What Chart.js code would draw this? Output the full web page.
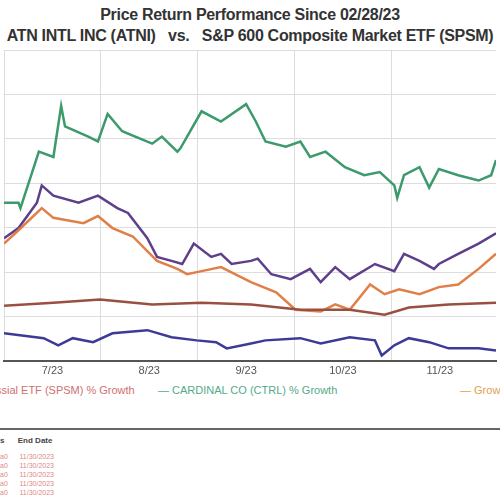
<!DOCTYPE html>
<html>
<head>
<script src="https://cdn.jsdelivr.net/npm/chart.js"></script>
<style>
body{margin:0;width:500px;height:500px;overflow:hidden;background:#fff;font-family:Arial,"Liberation Sans",sans-serif;position:relative}
.t{position:absolute;left:-150px;width:800px;text-align:center;font-weight:bold;font-size:16px;color:#333;white-space:nowrap;letter-spacing:-0.3px}
#wrap{position:absolute;left:0;top:50px;width:500px;height:332px}
.leg{position:absolute;top:384px;font-size:11px;white-space:nowrap}
</style>
</head>
<body>
<div class="t" style="top:6px">Price Return Performance Since 02/28/23</div>
<div class="t" style="top:27px">ATN INTL INC (ATNI) &nbsp;&nbsp;vs.&nbsp;&nbsp; S&amp;P 600 Composite Market ETF (SPSM)</div>
<div id="wrap"><canvas id="myChart"></canvas></div>
<div class="leg" style="left:-4px;color:#d07070">ssial ETF (SPSM) % Growth</div>
<div class="leg" style="left:158px;color:#55aa88">— CARDINAL CO (CTRL) % Growth</div>
<div class="leg" style="left:460px;color:#e0a050">— Grow</div>
<div style="position:absolute;left:0;top:428px;width:500px;border-top:2px solid #666"></div>
<div style="position:absolute;left:0;top:436px;font-size:8px;font-weight:bold;color:#444">s &nbsp;&nbsp;&nbsp;&nbsp; End Date</div>
<div style="position:absolute;left:0;top:452px;font-size:7px;line-height:9px;color:#d88">a0 &nbsp;&nbsp;&nbsp;&nbsp; 11/30/2023<br>a0 &nbsp;&nbsp;&nbsp;&nbsp; 11/30/2023<br>a0 &nbsp;&nbsp;&nbsp;&nbsp; 11/30/2023<br>a0 &nbsp;&nbsp;&nbsp;&nbsp; 11/30/2023<br>a0 &nbsp;&nbsp;&nbsp;&nbsp; 11/30/2023</div>
<script>
var monthLabels = ['7/23', '8/23', '9/23', '10/23', '11/23'];

var greenX = [0,0.15,0.17,0.36,0.51,0.59,0.63,0.87,0.97,1.07,1.22,1.53,1.63,1.79,1.82,2.04,2.24,2.5,2.6,2.7,2.91,3.06,3.16,3.32,3.52,3.72,3.88,4.03,4.06,4.13,4.29,4.39,4.49,4.69,4.9,5.03,5.08];
var greenY = [5.6,5.6,4.4,17.1,15.9,27.4,22.8,20.5,19.4,25.6,21.7,18.9,20.5,17.1,17.8,26.2,23.9,27.8,23.9,19.4,18.2,19.4,15.9,17.1,13.6,11.8,12.5,9.5,6.7,11.8,13.6,9.0,13.2,11.8,10.6,11.8,15.2];

var purpleX = [0,0.15,0.34,0.39,0.51,0.77,0.97,1.17,1.28,1.48,1.58,1.73,1.84,1.96,2.14,2.24,2.35,2.55,2.62,2.76,2.96,3.16,3.27,3.42,3.57,3.83,4.03,4.13,4.29,4.44,4.49,4.69,4.9,5.08];
var purpleY = [-2.4,-0.1,5.6,9.5,7.2,5.6,7.2,4.4,3.3,-2.4,-6.6,-7.5,-8.2,-3.6,-6.6,-5.9,-8.2,-7.5,-7.0,-10.5,-11.6,-9.3,-12.3,-8.9,-11.6,-8.2,-9.8,-5.9,-7.5,-9.3,-8.2,-5.9,-3.6,-1.3];

var orangeX = [0,0.15,0.39,0.51,0.82,0.97,1.12,1.33,1.58,1.79,1.89,2.04,2.24,2.55,2.81,3.01,3.27,3.42,3.57,3.78,3.93,4.08,4.29,4.49,4.69,4.9,5.08];
var orangeY = [-3.6,-0.6,4.4,2.2,1.0,2.6,-0.1,-2.0,-7.5,-9.3,-10.5,-9.8,-8.9,-12.3,-14.6,-18.5,-18.9,-17.3,-18.5,-12.8,-15.0,-13.9,-15.0,-13.4,-12.8,-9.3,-5.9];

var brownX = [0,0.51,0.99,1.53,2.04,2.55,3.06,3.57,3.93,4.18,4.59,5.08];
var brownY = [-17.6,-16.9,-16.2,-17.3,-16.9,-17.3,-18.5,-18.5,-19.6,-18.0,-17.3,-16.9];

var blueX = [0,0.41,0.56,0.71,0.92,1.12,1.48,1.73,1.99,2.19,2.3,2.55,2.7,3.06,3.27,3.57,3.83,3.9,4.03,4.18,4.39,4.59,4.9,5.08];
var blueY = [-23.8,-24.9,-26.5,-24.9,-25.8,-23.8,-23.1,-24.7,-25.4,-25.8,-27.2,-26.1,-25.4,-24.9,-26.1,-24.7,-25.4,-28.8,-26.5,-24.9,-25.8,-27.2,-27.2,-27.7];

function pts(xs, ys) { return xs.map(function (x, i) { return {x: x, y: ys[i]}; }); }
function ds(xs, ys, color) {
    return {data: pts(xs, ys), borderColor: color, borderWidth: 2.5, pointRadius: 0, tension: 0, fill: false};
}

var ctx = document.getElementById('myChart').getContext('2d');
var chart = new Chart(ctx, {
    type: 'line',
    data: {
        datasets: [
            ds(brownX, brownY, '#9a5040'),
            ds(blueX, blueY, '#3c3c96'),
            ds(orangeX, orangeY, '#e08048'),
            ds(purpleX, purpleY, '#5e3f8c'),
            ds(greenX, greenY, '#3c9a6c')
        ]
    },
    options: {
        responsive: true,
        maintainAspectRatio: false,
        animation: false,
        layout: {padding: 0},
        plugins: {legend: {display: false}, tooltip: {enabled: false}},
        scales: {
            x: {
                type: 'linear', min: 0, max: 5.08,
                border: {display: true, color: '#555', width: 2},
                grid: {
                    drawTicks: false,
                    color: function (c) { return Number.isInteger(c.tick.value) ? '#ddd' : 'rgba(0,0,0,0)'; }
                },
                ticks: {
                    stepSize: 0.5, autoSkip: false, maxRotation: 0, padding: 4,
                    font: {size: 11}, color: '#555',
                    callback: function (v) {
                        var i = Math.floor(v);
                        return (v - i === 0.5 && i < monthLabels.length) ? monthLabels[i] : '';
                    }
                }
            },
            y: {
                min: -30, max: 40,
                border: {display: false},
                grid: {color: '#ddd', drawTicks: false},
                ticks: {display: false, stepSize: 10}
            }
        }
    }
});
</script>
</body>
</html>
